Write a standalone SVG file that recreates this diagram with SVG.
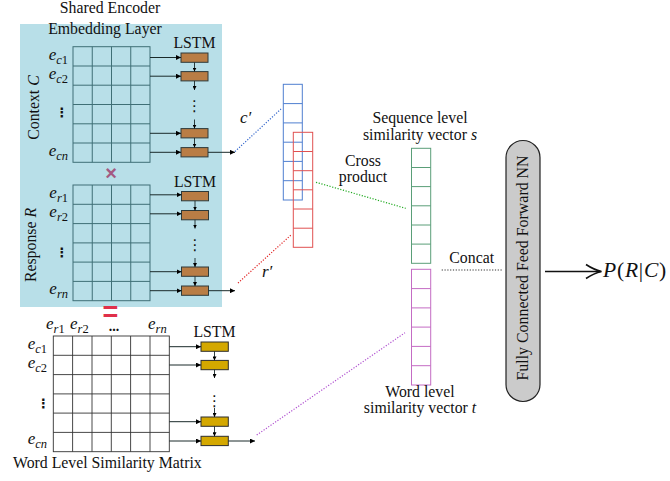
<svg xmlns="http://www.w3.org/2000/svg" width="670" height="481" viewBox="0 0 670 481">
<defs>
<marker id="ah" viewBox="0 0 10 10" refX="10" refY="5" markerWidth="5" markerHeight="5" orient="auto" markerUnits="userSpaceOnUse"><path d="M0,0 L10,5 L0,10 z" fill="#000"/></marker>
<marker id="ahs" viewBox="0 0 10 10" refX="10" refY="5" markerWidth="4" markerHeight="4" orient="auto" markerUnits="userSpaceOnUse"><path d="M0,0 L10,5 L0,10 z" fill="#000"/></marker>
</defs>
<style>
text{font-family:"Liberation Serif","Times New Roman",serif;fill:#111}
.t{font-size:15.8px}
.c{text-anchor:middle}
.m{font-size:17px;font-style:italic}
.s{font-size:12.5px}
.up{font-style:normal}
.g1{stroke:#3f6f76;stroke-width:1;fill:none}
.g2{stroke:#333;stroke-width:0.9;fill:none}
.br{fill:#b97d45;stroke:#2e3b3b;stroke-width:1}
.ye{fill:#d4a800;stroke:#2e2e2e;stroke-width:1}
.ar{stroke:#1a2a2a;stroke-width:1;fill:none;marker-end:url(#ah)}
.av{stroke:#1a2a2a;stroke-width:0.9;fill:none;marker-end:url(#ahs)}
.dot{stroke-width:1.2;stroke-dasharray:1.2 1.6;fill:none}
.vd{font-family:"DejaVu Sans",sans-serif;font-size:13px;text-anchor:middle;font-weight:bold}
.vl{font-family:"DejaVu Sans",sans-serif;font-size:15px;text-anchor:middle}
</style>

<rect x="20" y="24" width="202" height="283" fill="#b8dfe8"/>
<text class="t c" x="110" y="12.5">Shared Encoder</text>
<text class="t c" x="105" y="34">Embedding Layer</text>

<g id="context">
<text class="t c" transform="rotate(-90 39 107.5)" x="39" y="107.5">Context <tspan font-style="italic">C</tspan></text>
<g class="g1">
<rect x="73" y="46.7" width="77" height="115.6"/>
<path d="M92.25,46.7V162.3M111.5,46.7V162.3M130.75,46.7V162.3M73,66H150M73,85.2H150M73,104.5H150M73,123.8H150M73,143H150"/>
</g>
<text class="m" x="68" y="59.5" text-anchor="end">e<tspan class="s" dy="4">c<tspan class="up">1</tspan></tspan></text>
<text class="m" x="68" y="78.5" text-anchor="end">e<tspan class="s" dy="4">c<tspan class="up">2</tspan></tspan></text>
<text class="vd" x="62" y="117">⋮</text>
<text class="m" x="68" y="155.5" text-anchor="end">e<tspan class="s" dy="4">cn</tspan></text>
</g>

<g id="lstm-context">
<text class="t c" x="194.5" y="48">LSTM</text>
<rect class="br" x="181" y="53" width="27" height="9.3"/>
<rect class="br" x="181" y="71.6" width="27" height="9.3"/>
<rect class="br" x="181" y="128.6" width="27" height="9.3"/>
<rect class="br" x="181" y="147.6" width="27" height="9.3"/>
<text class="vl" x="194.5" y="111">⋮</text>
</g>

<text x="111" y="179.5" font-size="20" font-weight="bold" text-anchor="middle" style="fill:#a45a82;font-family:'Liberation Sans',sans-serif">×</text>

<g id="response">
<text class="t c" transform="rotate(-90 36 245)" x="36" y="245">Response <tspan font-style="italic">R</tspan></text>
<g class="g1">
<rect x="73" y="185" width="77" height="115.7"/>
<path d="M92.25,185V300.7M111.5,185V300.7M130.75,185V300.7M73,204.3H150M73,223.6H150M73,242.9H150M73,262.1H150M73,281.4H150"/>
</g>
<text class="m" x="68" y="198" text-anchor="end">e<tspan class="s" dy="4">r<tspan class="up">1</tspan></tspan></text>
<text class="m" x="68" y="217" text-anchor="end">e<tspan class="s" dy="4">r<tspan class="up">2</tspan></tspan></text>
<text class="vd" x="62" y="257">⋮</text>
<text class="m" x="68" y="294" text-anchor="end">e<tspan class="s" dy="4">rn</tspan></text>
</g>

<g id="lstm-response">
<text class="t c" x="195" y="186.7">LSTM</text>
<rect class="br" x="181.5" y="191.5" width="27" height="9.3"/>
<rect class="br" x="181.5" y="210.5" width="27" height="9.3"/>
<rect class="br" x="181.5" y="267" width="27" height="9.3"/>
<rect class="br" x="181.5" y="286" width="27" height="9.3"/>
<text class="vl" x="195" y="250">⋮</text>
</g>

<text x="110.5" y="321" text-anchor="middle" font-size="27" font-weight="bold" style="fill:#e0304a;font-family:'Liberation Sans',sans-serif">=</text>

<g id="word-matrix">
<g class="g2">
<rect x="53.3" y="336" width="116" height="115.7"/>
<path d="M72.6,336V451.7M92,336V451.7M111.3,336V451.7M130.6,336V451.7M150,336V451.7M53.3,355.3H169.3M53.3,374.6H169.3M53.3,393.9H169.3M53.3,413.1H169.3M53.3,432.4H169.3"/>
</g>
<text class="m" x="46" y="328.5">e<tspan class="s" dy="4">r<tspan class="up">1</tspan></tspan></text>
<text class="m" x="70" y="328.5">e<tspan class="s" dy="4">r<tspan class="up">2</tspan></tspan></text>
<text x="114" y="331" text-anchor="middle" font-size="14" font-weight="bold">...</text>
<text class="m" x="148" y="328.5">e<tspan class="s" dy="4">rn</tspan></text>
<text class="m" x="47" y="348.5" text-anchor="end">e<tspan class="s" dy="4">c<tspan class="up">1</tspan></tspan></text>
<text class="m" x="47" y="367.5" text-anchor="end">e<tspan class="s" dy="4">c<tspan class="up">2</tspan></tspan></text>
<text class="vd" x="43.5" y="408">⋮</text>
<text class="m" x="47" y="443.5" text-anchor="end">e<tspan class="s" dy="4">cn</tspan></text>
<text class="t" x="13" y="468">Word Level Similarity Matrix</text>
</g>

<g id="lstm-word">
<text class="t c" x="214.5" y="336.7">LSTM</text>
<rect class="ye" x="201" y="342" width="27.3" height="9.3"/>
<rect class="ye" x="201" y="360.4" width="27.3" height="9.3"/>
<rect class="ye" x="201" y="417" width="27.3" height="9.3"/>
<rect class="ye" x="201" y="436.3" width="27.3" height="9.3"/>
<text class="vl" x="214.5" y="405.5">⋮</text>
</g>

<g id="vec-c">
<rect x="283.3" y="84.3" width="19" height="115.7" fill="none" stroke="#4f7fd0" stroke-width="1"/>
<path d="M283.3,103.6H302.3M283.3,122.9H302.3M283.3,142.2H302.3M283.3,161.4H302.3M283.3,180.7H302.3" stroke="#4f7fd0" stroke-width="1"/>
<text class="m" x="240" y="123">c′</text>
</g>
<g id="vec-r">
<rect x="293.3" y="132.3" width="19.4" height="115" fill="none" stroke="#e05050" stroke-width="1"/>
<path d="M293.3,151.5H312.7M293.3,170.7H312.7M293.3,189.8H312.7M293.3,209H312.7M293.3,228.2H312.7" stroke="#e05050" stroke-width="1"/>
<text class="m" x="262" y="277">r′</text>
</g>
<text class="t c" x="363" y="166">Cross</text>
<text class="t c" x="363" y="181.5">product</text>

<g id="vec-s">
<rect x="411.5" y="148.3" width="19.2" height="115" fill="none" stroke="#5a9e78" stroke-width="1"/>
<path d="M411.5,167.5H430.7M411.5,186.6H430.7M411.5,205.8H430.7M411.5,225H430.7M411.5,244.1H430.7" stroke="#5a9e78" stroke-width="1"/>
<text class="t c" x="420" y="122.5">Sequence level</text>
<text class="t c" x="420" y="139.5">similarity vector <tspan font-style="italic">s</tspan></text>
</g>
<g id="vec-t">
<rect x="411.5" y="269.3" width="19.2" height="115.7" fill="none" stroke="#c46cc4" stroke-width="1"/>
<path d="M411.5,288.6H430.7M411.5,307.9H430.7M411.5,327.1H430.7M411.5,346.4H430.7M411.5,365.7H430.7" stroke="#c46cc4" stroke-width="1"/>
<text class="t c" x="420" y="397">Word level</text>
<text class="t c" x="420" y="412.5">similarity vector <tspan font-style="italic">t</tspan></text>
</g>

<g id="fcnn">
<rect x="506" y="140.5" width="34" height="261" rx="17" ry="17" fill="#cbcbcb" stroke="#222" stroke-width="1.2"/>
<text class="t c" style="font-size:15.9px" transform="rotate(-90 527.5 268)" x="527.5" y="268">Fully Connected Feed Forward NN</text>
</g>

<g id="output">
<text x="603" y="276.5" font-size="21.5" letter-spacing="0.8"><tspan font-style="italic">P</tspan>(<tspan font-style="italic">R</tspan>|<tspan font-style="italic">C</tspan>)</text>
</g>

<g id="connectors">
<path class="ar" d="M150,57.5H181"/>
<path class="ar" d="M150,76.2H181"/>
<path class="ar" d="M150,133.3H181"/>
<path class="ar" d="M150,152.3H181"/>
<path class="av" d="M194.5,62.3V71.6"/>
<path class="av" d="M194.5,80.9V90"/>
<path class="av" d="M194.5,119.5V128.6"/>
<path class="av" d="M194.5,137.9V147.6"/>
<path class="ar" d="M208,152.3H235"/>

<path class="ar" d="M150,194.8H181.5"/>
<path class="ar" d="M150,213.8H181.5"/>
<path class="ar" d="M150,271.7H181.5"/>
<path class="ar" d="M150,290.7H181.5"/>
<path class="av" d="M195,200.8V210.5"/>
<path class="av" d="M195,219.8V228.5"/>
<path class="av" d="M195,258V267"/>
<path class="av" d="M195,276.3V286"/>
<path class="ar" d="M208.5,290.7H235"/>

<path class="ar" d="M169.3,346.7H201"/>
<path class="ar" d="M169.3,365H201"/>
<path class="ar" d="M169.3,421.7H201"/>
<path class="ar" d="M169.3,441H201"/>
<path class="av" d="M214.5,351.3V360.4"/>
<path class="av" d="M214.5,369.7V378"/>
<path class="av" d="M214.5,408V417"/>
<path class="av" d="M214.5,426.3V436.3"/>
<path class="ar" d="M228.3,441H255"/>

<path class="dot" stroke="#3366cc" d="M235,151.5L281,109"/>
<path class="dot" stroke="#e02525" d="M238,283L291,235"/>
<path class="dot" stroke="#22aa22" d="M316,182.3L405.7,208.3"/>
<path class="dot" stroke="#b050d0" d="M256.7,435L405,332.7"/>
<path class="dot" stroke="#333" d="M441.7,270H501.7"/>
<text class="t c" x="471.7" y="263">Concat</text>

<path d="M545,271.5H600.5" stroke="#111" stroke-width="1.6" fill="none"/>
<path d="M586,264.5Q594,269.8 601.5,271.5Q594,273.2 586,278.5" stroke="#111" stroke-width="1.6" fill="none"/>
</g>
</svg>
